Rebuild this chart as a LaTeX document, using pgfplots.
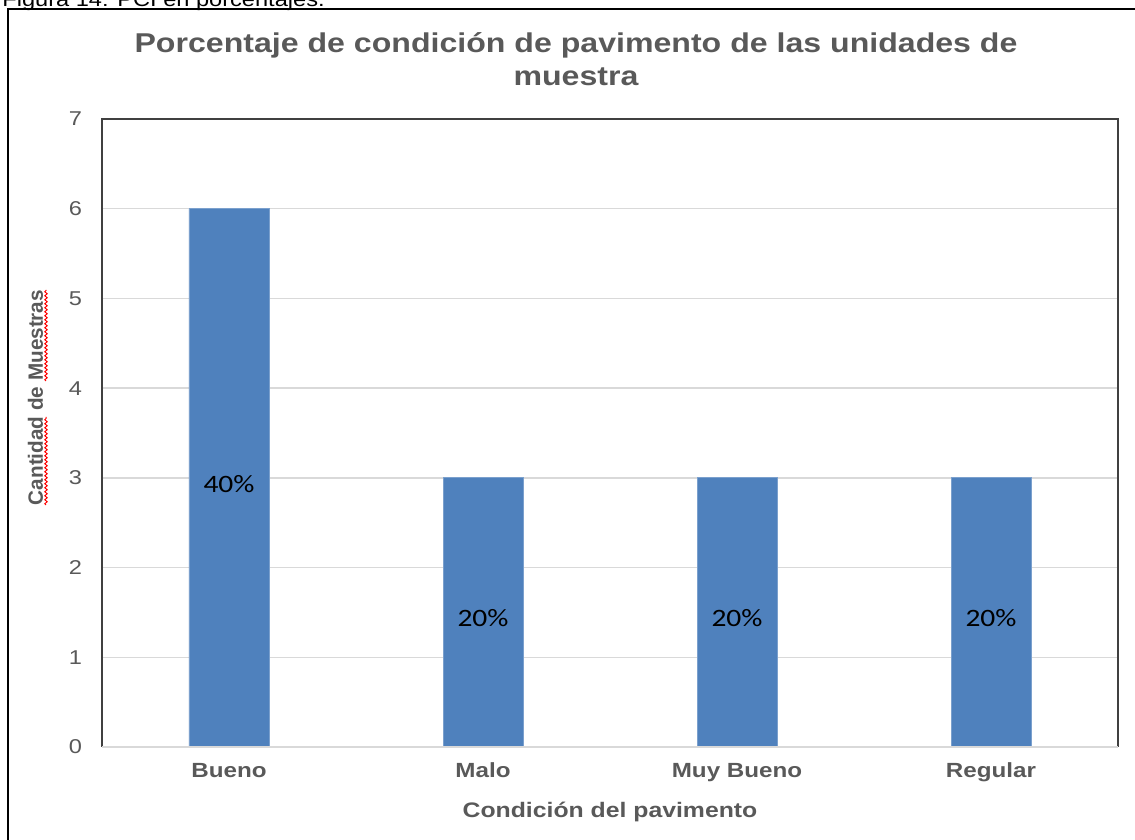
\documentclass[border=0pt]{standalone}
\usepackage{fontspec}
\setmainfont{Liberation Sans}[FakeStretch=1.18]
\newfontfamily\ylabfont{Liberation Sans}
\newfontfamily\carlito{Carlito}[FakeStretch=1.18]
\usepackage{pgfplots}
\pgfplotsset{compat=1.18}
\usetikzlibrary{decorations.pathmorphing}
\definecolor{barblue}{HTML}{4F81BD}
\definecolor{txtgray}{HTML}{595959}
\definecolor{gridgray}{HTML}{D9D9D9}
\definecolor{borderdark}{HTML}{404040}
\begin{document}
\begin{tikzpicture}
\useasboundingbox (0,0) rectangle (567.5pt,420pt);
\clip (0,0) rectangle (567.5pt,420pt);
% caption (cut at top)
\node[anchor=base west, inner sep=0, font=\fontsize{10}{12}\selectfont] at (1pt,416.75pt) {Figura 14: PCI en porcentajes.};
% outer frame
\draw[line width=1pt] (4pt,-10pt) rectangle (590pt,415.25pt);
% title
\node[anchor=base, inner sep=0, text=txtgray, font=\bfseries\fontsize{13.6}{16}\selectfont] at (288pt,{(840-53)*0.5pt}) {Porcentaje de condición de pavimento de las unidades de};
\node[anchor=base, inner sep=0, text=txtgray, font=\bfseries\fontsize{13.6}{16}\selectfont] at (288pt,{(840-86)*0.5pt}) {muestra};
\begin{axis}[
  at={(51pt,46.5pt)}, anchor=south west,
  scale only axis, width=508pt, height=314pt,
  xmin=-0.5, xmax=3.5, ymin=0, ymax=7,
  xtick={0,1,2,3}, xticklabels={Bueno,Malo,Muy Bueno,Regular},
  ytick={0,1,2,3,4,5,6,7},
  /pgf/number format/assume math mode=true,
  ymajorgrids, grid style={gridgray, line width=0.75pt},
  major tick length=0pt,
  axis line style={draw=none},
  clip=false,
  tick label style={text=txtgray},
  xticklabel style={font=\bfseries\fontsize{10.25}{12}\selectfont, yshift=-4.5pt},
  yticklabel style={font=\fontsize{10}{12}\selectfont, xshift=-6.5pt},
  xlabel={Condición del pavimento},
  xlabel style={font=\bfseries\fontsize{10.5}{12}\selectfont, text=txtgray, at={(axis description cs:0.5,-0.1115)}, anchor=base},
  ylabel={\ylabfont\bfseries Cantidad de Muestras},
  ylabel style={font=\fontsize{10.35}{12}\selectfont, text=txtgray, at={(axis description cs:-0.0581,0.5565)}, anchor=base},
]
\addplot[ybar, bar width=40pt, fill=barblue, draw=barblue!75!white, line width=0.4pt] coordinates {(0,6) (1,3) (2,3) (3,3)};
\addplot[only marks, mark=*, mark size=0pt, mark options={draw=none,fill=none},
  nodes near coords, point meta=explicit symbolic,
  every node near coord/.append style={anchor=center, text=black, font=\carlito\fontsize{12.5}{14}\selectfont, yshift=-3pt}]
  coordinates {(0,3) [40\%] (1,1.5) [20\%] (2,1.5) [20\%] (3,1.5) [20\%]};
\draw[borderdark, line width=1pt] (rel axis cs:0,0) -- (rel axis cs:0,1) -- (rel axis cs:1,1) -- (rel axis cs:1,0);
\draw[gridgray, line width=0.75pt] (rel axis cs:0,0) -- (rel axis cs:1,0);
\end{axis}
% spell-check wavy underlines
\draw[red, line width=0.5pt, decorate, decoration={snake, amplitude=0.6pt, segment length=2pt}] (23pt,{(840-505)*0.5pt}) -- (23pt,{(840-417)*0.5pt});
\draw[red, line width=0.5pt, decorate, decoration={snake, amplitude=0.6pt, segment length=2pt}] (23pt,{(840-381)*0.5pt}) -- (23pt,{(840-290)*0.5pt});
\end{tikzpicture}
\end{document}
